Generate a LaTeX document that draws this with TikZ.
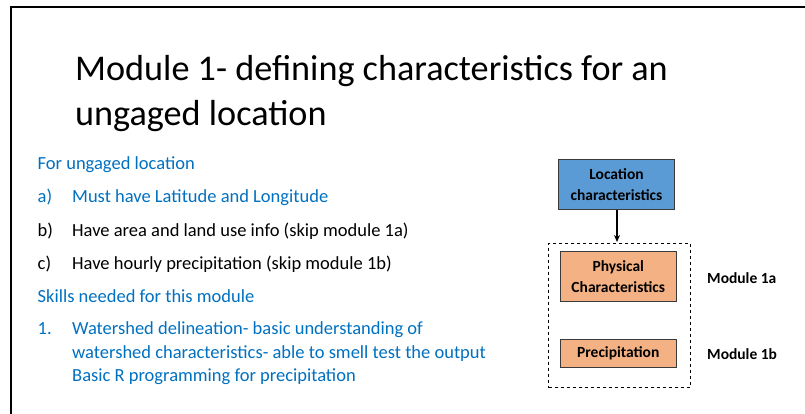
\documentclass[tikz,border=0pt]{standalone}
\usepackage{fontspec}
\setmainfont{Carlito}
\usetikzlibrary{arrows.meta}
\definecolor{txtblue}{HTML}{0070C0}
\definecolor{boxblue}{HTML}{5B9BD5}
\definecolor{boxorange}{HTML}{F4B183}
\definecolor{boxedge}{HTML}{3A3A3A}
\tikzset{
  body/.style={anchor=base west, inner sep=0pt, font=\fontsize{18.5}{22}\selectfont},
  titletext/.style={anchor=base west, inner sep=0pt, font=\fontsize{36.2}{45}\selectfont},
  flowbox/.style={draw=boxedge, line width=0.8pt, align=center, inner sep=0pt, font=\fontsize{15.5}{21}\selectfont\bfseries},
  modlabel/.style={anchor=west, inner sep=0pt, font=\fontsize{15.5}{18}\selectfont\bfseries},
}
\begin{document}
\begin{tikzpicture}[x=1pt,y=-1pt]
\useasboundingbox (0,0) rectangle (805,414);
% frame
\draw[line width=2pt] (10.5,414) -- (10.5,7.5) -- (805,7.5);
% title
\node[titletext] (t1) at (75,80.5) {Module 1- defining characteristics for an};
\node[titletext] (t2) at (75,125.5) {ungaged location};
% body
\node[body, text=txtblue] (l0) at (37.5,169.5) {For ungaged location};
\node[body, text=txtblue] (la) at (37.5,202) {a)};
\node[body, text=txtblue] (lat) at (72,202) {Must have Latitude and Longitude};
\node[body] (lb) at (37.5,236) {b)};
\node[body] (lbt) at (72,236) {Have area and land use info (skip module 1a)};
\node[body] (lc) at (37.5,269) {c)};
\node[body] (lct) at (72,269) {Have hourly precipitation (skip module 1b)};
\node[body, text=txtblue] (ls) at (37.5,302) {Skills needed for this module};
\node[body, text=txtblue] (l1) at (37.5,334.5) {1.};
\node[body, text=txtblue] (l1a) at (72,334.5) {Watershed delineation- basic understanding of};
\node[body, text=txtblue] (l1b) at (72,358) {watershed characteristics- able to smell test the output};
\node[body, text=txtblue] (l1c) at (72,381.5) {Basic R programming for precipitation};
% diagram
\node[flowbox, fill=boxblue, minimum width=116pt, minimum height=50pt] (loc) at (616.5,184.5) {Location\\characteristics};
\node[draw=black, dashed, line width=1pt, minimum width=141.5pt, minimum height=144.5pt, inner sep=0pt] (grp) at (619.25,315.25) {};
\node[flowbox, fill=boxorange, minimum width=116.5pt, minimum height=50pt] (phys) at (618.25,276.7) {Physical\\Characteristics};
\node[flowbox, fill=boxorange, minimum width=116.5pt, minimum height=28.5pt] (prec) at (618.25,353.25) {Precipitation};
\draw[line width=1.2pt, -{Stealth[length=7pt,width=6pt]}] (loc.south -| 617,0) -- (617,242);
\node[modlabel] (m1a) at (707,278) {Module 1a};
\node[modlabel] (m1b) at (707,354) {Module 1b};
\end{tikzpicture}
\end{document}
